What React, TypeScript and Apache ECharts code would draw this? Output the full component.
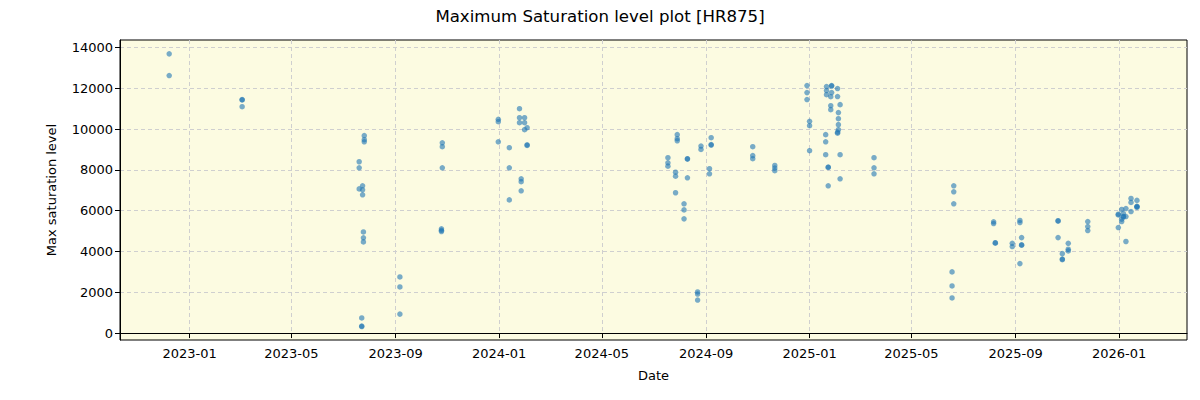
import React, { useEffect, useRef } from "react";
import * as echarts from "echarts";

// Observation dates and the maximum saturation level measured on each
const obsDates: string[] = [
  "2022-12-08", "2022-12-08",
  "2023-03-04", "2023-03-04", "2023-03-04",
  "2023-07-26", "2023-07-26", "2023-07-26",
  "2023-07-20", "2023-07-20", "2023-07-20",
  "2023-07-24", "2023-07-24", "2023-07-24",
  "2023-07-25", "2023-07-25", "2023-07-25",
  "2023-07-23", "2023-07-23", "2023-07-23",
  "2023-09-06", "2023-09-06", "2023-09-06",
  "2023-10-26", "2023-10-26", "2023-10-26", "2023-10-25", "2023-10-25", "2023-10-25",
  "2023-12-31", "2023-12-31", "2023-12-31",
  "2024-01-13", "2024-01-13", "2024-01-13",
  "2024-01-25", "2024-01-25", "2024-01-25",
  "2024-01-31", "2024-01-31", "2024-01-31",
  "2024-02-03", "2024-02-03", "2024-02-03",
  "2024-01-27", "2024-01-27", "2024-01-27",
  "2024-07-29", "2024-07-29", "2024-07-29",
  "2024-07-18", "2024-07-18", "2024-07-18",
  "2024-07-27", "2024-07-27", "2024-07-27",
  "2024-08-10", "2024-08-10", "2024-08-10",
  "2024-08-06", "2024-08-06", "2024-08-06",
  "2024-08-26", "2024-08-26",
  "2024-09-07", "2024-09-07", "2024-09-07", "2024-09-05", "2024-09-05",
  "2024-08-22", "2024-08-22", "2024-08-22",
  "2024-10-26", "2024-10-26", "2024-10-26",
  "2024-11-21", "2024-11-21", "2024-11-21",
  "2024-12-29", "2024-12-29", "2024-12-29",
  "2025-01-01", "2025-01-01", "2025-01-01",
  "2025-01-21", "2025-01-21", "2025-01-21",
  "2025-01-27", "2025-01-27", "2025-01-27",
  "2025-01-26", "2025-01-26", "2025-01-26",
  "2025-02-03", "2025-02-03",
  "2025-02-06",
  "2025-02-04", "2025-02-04", "2025-02-04", "2025-02-04", "2025-02-03", "2025-02-03",
  "2025-01-20", "2025-01-20", "2025-01-20",
  "2025-02-06", "2025-02-06",
  "2025-01-23", "2025-01-23", "2025-01-23",
  "2025-03-18", "2025-03-18", "2025-03-18",
  "2025-06-20", "2025-06-20", "2025-06-20",
  "2025-06-18", "2025-06-18", "2025-06-18",
  "2025-08-06", "2025-08-06", "2025-08-08", "2025-08-08",
  "2025-09-06", "2025-09-06", "2025-09-08", "2025-09-08", "2025-09-08",
  "2025-08-28", "2025-08-28", "2025-09-06",
  "2025-10-21", "2025-10-21", "2025-10-21",
  "2025-10-26", "2025-10-26", "2025-10-26",
  "2025-11-02", "2025-11-02", "2025-11-02",
  "2025-11-25", "2025-11-25", "2025-11-25",
  "2025-12-31", "2025-12-31", "2025-12-31",
  "2026-01-04", "2026-01-04", "2026-01-04",
  "2026-01-06", "2026-01-06", "2026-01-06",
  "2026-01-09", "2026-01-09", "2026-01-09",
  "2026-01-15", "2026-01-15", "2026-01-15",
  "2026-01-22", "2026-01-22", "2026-01-22", "2026-01-22",
];

const maxSat: number[] = [
  13690, 12625,
  11450, 11430, 11100,
  9680, 9480, 9380,
  8400, 8105, 7070,
  7220, 7025, 6780,
  4960, 4670, 4470,
  740, 345, 320,
  2750, 2260, 930,
  9330, 9140, 8105, 5110, 5040, 4980,
  10480, 10365, 9380,
  9090, 8105, 6530,
  11000, 10560, 10315,
  10560, 10315, 9970,
  10070, 9230, 9200,
  7565, 7420, 6975,
  9730, 9530, 9430,
  8600, 8350, 8185,
  7890, 7695, 6880,
  8550, 8530, 7615,
  6340, 6040, 5600,
  9170, 9005,
  9580, 9240, 9220, 8060, 7810,
  2015, 1915, 1620,
  9140, 8700, 8550,
  8220, 8090, 7960,
  12135, 11790, 11450,
  10380, 10170, 8940,
  12085, 11890, 11690,
  12135, 12110, 11790,
  11590, 11150, 10955,
  11990, 11595,
  11200,
  10810, 10510, 10220, 9970, 9850, 9800,
  9730, 9380, 8745,
  8745, 7565,
  8140, 8120, 7220,
  8600, 8105, 7810,
  7220, 6925, 6340,
  3000, 2310, 1720,
  5455, 5370, 4430, 4410,
  5520, 5420, 4680, 4330, 4310,
  4400, 4240, 3405,
  5510, 5490, 4680,
  3895, 3630, 3600,
  4400, 4110, 4030,
  5470, 5220, 5025,
  5830, 5790, 5175,
  6060, 5585, 5470,
  5860, 5715, 5700,
  6105, 5715, 4490,
  6600, 6405, 5960,
  6505, 6215, 6200, 6160,
];

// Axis ticks
const dateTicks: string[] = [
  "2023-01-01", "2023-05-01", "2023-09-01", "2024-01-01", "2024-05-01",
  "2024-09-01", "2025-01-01", "2025-05-01", "2025-09-01", "2026-01-01",
];
const levelTicks: number[] = [0, 2000, 4000, 6000, 8000, 10000, 12000, 14000];

const xRange: string[] = ["2022-10-11", "2026-03-22"];
const yRange: number[] = [-340, 14370];

const ts = (d: string) => Date.parse(d + "T00:00:00Z");
const fmtMonth = (v: number) => {
  const d = new Date(v);
  const m = d.getUTCMonth() + 1;
  return `${d.getUTCFullYear()}-${m < 10 ? "0" + m : m}`;
};

const FONT = "DejaVu Sans";

export default function App() {
  const ref = useRef<HTMLDivElement>(null);

  useEffect(() => {
    if (!ref.current) return;
    const chart = echarts.init(ref.current, undefined, { renderer: "svg" });
    const points = obsDates.map((d, i) => [ts(d), maxSat[i]]);
    const xTickVals = dateTicks.map(ts);

    chart.setOption({
      animation: false,
      backgroundColor: "#ffffff",
      textStyle: { fontFamily: FONT },
      title: {
        text: "Maximum Saturation level plot [HR875]",
        left: "center",
        top: 3,
        textStyle: { fontFamily: FONT, fontSize: 16.6, fontWeight: "normal", color: "#000" },
      },
      grid: {
        left: 120,
        top: 40,
        width: 1067,
        height: 300,
        show: true,
        backgroundColor: "#fcfbe1",
        borderColor: "#000",
        borderWidth: 1,
        containLabel: false,
      },
      xAxis: {
        type: "value",
        min: ts(xRange[0]),
        max: ts(xRange[1]),
        name: "Date",
        nameLocation: "middle",
        nameGap: 29,
        nameTextStyle: { fontFamily: FONT, fontSize: 13, color: "#000" },
        axisLine: { show: true, lineStyle: { color: "#000", width: 1 } },
        axisTick: {
          show: true,
          inside: false,
          length: 5,
          customValues: xTickVals,
          lineStyle: { color: "#000" },
        },
        axisLabel: {
          customValues: xTickVals,
          formatter: (v: number) => fmtMonth(v),
          fontFamily: FONT,
          fontSize: 13,
          color: "#000",
          margin: 7,
        },
        splitLine: {
          show: true,
          lineStyle: { color: "#cfcfcf", type: [4, 3], width: 1 },
        },
      },
      yAxis: {
        type: "value",
        min: yRange[0],
        max: yRange[1],
        name: "Max saturation level",
        nameLocation: "middle",
        nameGap: 62,
        nameTextStyle: { fontFamily: FONT, fontSize: 13, color: "#000" },
        axisLine: { show: true, lineStyle: { color: "#000", width: 1 } },
        axisTick: {
          show: true,
          inside: false,
          length: 5,
          customValues: levelTicks,
          lineStyle: { color: "#000" },
        },
        axisLabel: {
          customValues: levelTicks,
          formatter: (v: number) => String(v),
          fontFamily: FONT,
          fontSize: 13,
          color: "#000",
          margin: 7,
        },
        splitLine: {
          show: true,
          lineStyle: { color: "#cfcfcf", type: [4, 3], width: 1 },
        },
      },
      series: [
        {
          type: "scatter",
          data: points,
          symbol: "circle",
          symbolSize: 5.5,
          itemStyle: { color: "#1f77b4", opacity: 0.6 },
        },
      ],
    });

    return () => chart.dispose();
  }, []);

  return (
    <div
      ref={ref}
      style={{ position: "absolute", left: 0, top: 0, width: 1200, height: 400 }}
    />
  );
}
